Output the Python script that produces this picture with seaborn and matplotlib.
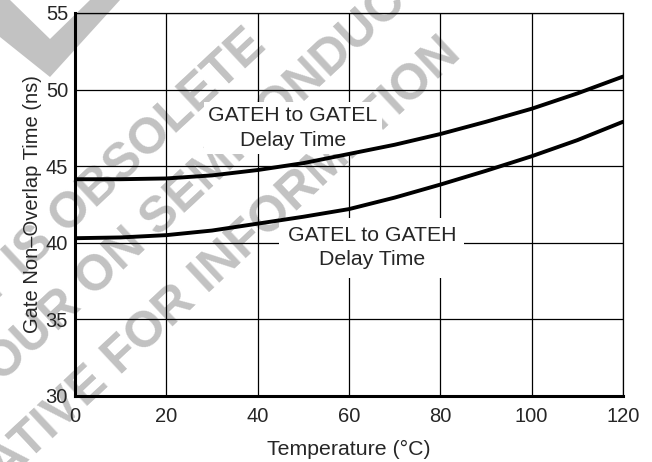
import numpy as np
import pandas as pd
import seaborn as sns
import matplotlib.pyplot as plt
from matplotlib.patches import Polygon

temperature = [0, 10, 20, 30, 40, 50, 60, 70, 80, 90, 100, 110, 120]
gateh_to_gatel = [44.15, 44.15, 44.2, 44.4, 44.75, 45.2, 45.8, 46.4, 47.1, 47.9, 48.75, 49.75, 50.85]
gatel_to_gateh = [40.3, 40.35, 40.5, 40.8, 41.25, 41.7, 42.2, 42.95, 43.8, 44.7, 45.65, 46.7, 47.9]

x_ticks = [0, 20, 40, 60, 80, 100, 120]
y_ticks = [30, 35, 40, 45, 50, 55]

# watermark lines: (text, word used to place it, pixel centre of that word)
watermark = [
    ("PRODUCT IS OBSOLETE", "OBSOLETE", (158, 132)),
    ("CONTACT YOUR ON SEMICONDUCTOR", "ON", (112, 263)),
    ("REPRESENTATIVE FOR INFORMATION", "FOR", (150, 330)),
]

df = pd.DataFrame({
    "temp": temperature * 2,
    "delay": gateh_to_gatel + gatel_to_gateh,
    "curve": ["GATEH to GATEL"] * len(temperature) + ["GATEL to GATEH"] * len(temperature),
})

sns.set_style("white")
plt.rcParams['font.family'] = ['Liberation Sans', 'DejaVu Sans']

W, H = 652, 462
fig = plt.figure(figsize=(W / 100, H / 100), dpi=100)
ax = fig.add_axes([75 / W, 1 - 396 / H, 548 / W, 383 / H])
ax.patch.set_visible(False)
renderer = fig.canvas.get_renderer()

wm_color = '#c2c2c2'
wm_size = 36
angle = 43


def text_width(s):
    t = fig.text(0, 0, s, fontsize=wm_size, fontweight='bold')
    w = t.get_window_extent(renderer).width
    t.remove()
    return w


c, s = np.cos(np.radians(angle)), np.sin(np.radians(angle))
for full, key, (kx, ky) in watermark:
    words = full.split(" ")
    i = len(" ".join(words[:words.index(key)] + [""]))
    off = text_width(full[:i + len(key)]) - text_width(key) / 2
    sx, sy = kx - off * c, ky + off * s
    fig.text(sx / W, 1 - sy / H, full, rotation=angle, rotation_mode='anchor',
             ha='left', va='center', fontsize=wm_size, fontweight='bold',
             color=wm_color, zorder=-5)

chevron = [(0, 0), (10, 0), (50, 39), (90, 0), (120, 0), (50, 77), (0, 37)]
fig.patches.append(Polygon([(x / W, 1 - y / H) for x, y in chevron], closed=True,
                           transform=fig.transFigure, facecolor=wm_color,
                           edgecolor='none', zorder=-5))

sns.lineplot(data=df, x="temp", y="delay", units="curve", estimator=None,
             color='black', linewidth=2.8, ax=ax, zorder=6, legend=False)

ax.set_xlim(0, 120)
ax.set_ylim(30, 55)
ax.set_xticks(x_ticks)
ax.set_yticks(y_ticks)
ax.grid(True, color='black', linewidth=0.9)
ax.tick_params(length=0, labelsize=14.5)
ax.tick_params(axis='x', pad=8)
ax.tick_params(axis='y', pad=5)
for side in ['top', 'right']:
    ax.spines[side].set_linewidth(0.9)
    ax.spines[side].set_color('black')
for side in ['left', 'bottom']:
    ax.spines[side].set_linewidth(2.2)
    ax.spines[side].set_color('black')
    ax.spines[side].set_zorder(7)

ax.set_xlabel("Temperature (\u00b0C)", fontsize=15.3, labelpad=10)
ax.set_ylabel("Gate Non\u2013Overlap Time (ns)", fontsize=14.5, labelpad=3)

ax.text(47.7, 47.5, "GATEH to GATEL\nDelay Time", ha='center', va='center',
        fontsize=15.3, linespacing=1.35, zorder=5,
        bbox=dict(facecolor='white', edgecolor='none', pad=3))
ax.text(65.0, 39.68, "GATEL to GATEH\nDelay Time", ha='center', va='center',
        fontsize=15.3, linespacing=1.35, zorder=5,
        bbox=dict(facecolor='white', edgecolor='none', pad=6))

fig.savefig("out.png", dpi=100)
